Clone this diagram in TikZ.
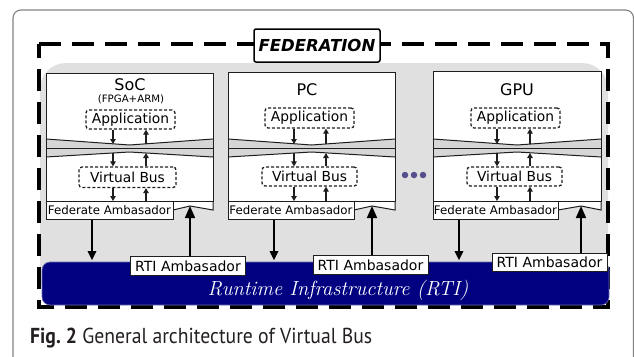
\documentclass[tikz,border=0pt]{standalone}
\usepackage{fontspec}
\newfontfamily\dv{DejaVu Sans}
\newfontfamily\capfont{PT Sans}
\usetikzlibrary{arrows.meta}
\definecolor{bggray}{RGB}{224,224,224}
\definecolor{bandgray}{RGB}{214,214,214}
\definecolor{navyblue}{RGB}{0,0,128}
\definecolor{navyedge}{RGB}{110,110,175}
\definecolor{dotcol}{RGB}{85,80,140}
\definecolor{capcol}{RGB}{35,31,32}
\definecolor{framecol}{RGB}{130,130,130}
\definecolor{boxcol}{RGB}{30,30,30}
\newcommand\hostframe[5]{% L, R, top, FedR, peak
  \pgfmathsetmacro\hbm{(#1+#2)/2}
  \fill[white] (#1,#3) rectangle (#2,201);
  \fill[bandgray] (#1,139) -- (\hbm,145) -- (#2,139) -- (#2,157) -- (\hbm,152) -- (#1,157) -- cycle;
  \draw[boxline] (#1,139) -- (\hbm,145) -- (#2,139);
  \draw[boxline] (#1,148) -- (#2,148);
  \draw[boxline] (#1,157) -- (\hbm,152) -- (#2,157);
  \filldraw[fill=white, boxline] (#4,201) -- (#4,210) -- (#5,206) -- (#2,210) -- (#2,201);
  \draw[boxline] (#1,#3) rectangle (#2,201);
}
\begin{document}
\begin{tikzpicture}[x=1pt,y=-1pt,
  boxline/.style={draw=boxcol, line width=1pt},
  dashbox/.style={draw=boxcol, line width=1.3pt, dash pattern=on 3pt off 2pt, rounded corners=3pt, fill=white, inner sep=0pt, font=\dv\fontsize{13.8}{15}\selectfont},
  fedbox/.style={draw=boxcol, line width=1pt, fill=white, inner sep=0pt, minimum height=18pt, font=\dv\fontsize{11.8}{13}\selectfont},
  rtibox/.style={draw=boxcol, line width=1pt, fill=white, inner sep=0pt, minimum height=18.5pt, minimum width=115pt, font=\dv\fontsize{14}{15}\selectfont},
  title/.style={inner sep=0pt, font=\dv\fontsize{16}{18}\selectfont},
  sarrow/.style={draw=boxcol, line width=1.1pt, -{Triangle[length=5pt,width=5.5pt]}},
  bigdown/.style={draw=black, line width=1.6pt, -{Triangle[length=9pt,width=8.5pt]}, shorten >=1.5pt},
  bigup/.style={draw=black, line width=1.7pt, -{Triangle[length=12pt,width=10pt]}},
  dotn/.style={circle, fill=dotcol, inner sep=0pt, minimum size=6.5pt}
]
\useasboundingbox (0,0) rectangle (634,356);
% outer page frame
\draw[framecol, line width=1.1pt, rounded corners=8pt] (13,360) -- (13,10) -- (633.5,10) -- (633.5,360);
% gray background
\fill[bggray, rounded corners=26pt] (40,63) rectangle (608,300);
\fill[bggray] (40,200) rectangle (608,285);
% federation dashed frame
\draw[black, line width=3.3pt, dash pattern=on 22pt off 11pt] (39,44) -- (608,44) -- (608,307) -- (39,307) -- cycle;
\node[draw=black, line width=1.5pt, rounded corners=2pt, fill=white, minimum width=126pt, minimum height=33pt, inner sep=0pt, font=\dv\fontsize{16.5}{18}\selectfont\bfseries\itshape] (fed) at (317,45.5) {FEDERATION};
% RTI bar
\node[fill=navyblue, draw=navyedge, line width=0.6pt, rounded corners=8pt, minimum width=567pt, minimum height=43pt, inner sep=0pt] (rtibar) at (325.5,283.5) {};
\node[text=white, inner sep=0pt, font=\fontsize{20.5}{24}\selectfont\itshape] (rtitext) at (338,290) {Runtime Infrastructure (RTI)};
% hosts
\hostframe{46}{213}{73}{173}{190}
\hostframe{228}{395}{72}{354}{372}
\hostframe{433}{601}{71}{558}{581}
\coordinate (bandtop) at (0,144);
\coordinate (bandbot) at (0,153);
\coordinate (boxbot) at (0,201);
\coordinate (pk1) at (190,206);
\coordinate (pk2) at (372,206);
\coordinate (pk3) at (581,206);
% host labels
\node[title] (soc) at (130,85) {SoC};
\node[inner sep=0pt, font=\dv\fontsize{10.2}{12}\selectfont] (socsub) at (131,99) {(FPGA+ARM)};
\node[title] (pc) at (307,90) {PC};
\node[title] (gpu) at (517,90) {GPU};
% application and virtual bus
\node[dashbox, minimum width=89pt, minimum height=19pt] (app1) at (130.5,119.5) {Application};
\node[dashbox, minimum width=89pt, minimum height=20pt] (app2) at (309.5,118) {Application};
\node[dashbox, minimum width=89pt, minimum height=20pt] (app3) at (515.5,118) {Application};
\node[dashbox, minimum width=97pt, minimum height=20.5pt] (vb1) at (127.5,177.25) {Virtual Bus};
\node[dashbox, minimum width=95pt, minimum height=19pt] (vb2) at (309.5,176.5) {Virtual Bus};
\node[dashbox, minimum width=95pt, minimum height=19pt] (vb3) at (514.5,176.5) {Virtual Bus};
% federate ambassadors
\node[fedbox, minimum width=127pt] (fed1) at (109.5,210) {Federate Ambasador};
\node[fedbox, minimum width=126pt] (fed2) at (291,210) {Federate Ambasador};
\node[fedbox, minimum width=125pt] (fed3) at (495.5,210) {Federate Ambasador};
% internal arrows
\foreach \b/\d/\u in {1/113/146, 2/294/326, 3/497/530} {
  \draw[sarrow] (app\b.south -| \d,0) -- (\d,0 |- bandtop);
  \draw[sarrow] (\u,0 |- bandtop) -- (app\b.south -| \u,0);
  \draw[sarrow] (\d,0 |- bandbot) -- (vb\b.north -| \d,0);
  \draw[sarrow] (vb\b.north -| \u,0) -- (\u,0 |- bandbot);
  \draw[sarrow] (vb\b.south -| \d,0) -- (\d,0 |- boxbot);
  \draw[sarrow] (\u,0 |- boxbot) -- (vb\b.south -| \u,0);
}
% RTI ambassadors
\node[rtibox] (rti1) at (188,266) {RTI Ambasador};
\node[rtibox] (rti2) at (370.5,265) {RTI Ambasador};
\node[rtibox] (rti3) at (549.5,262.5) {RTI Ambasador};
% federate -> RTI
\draw[bigdown] (fed1.south -| 92,0) -- (92,0 |- rtibar.north);
\draw[bigdown] (fed2.south -| 274,0) -- (274,0 |- rtibar.north);
\draw[bigdown] (fed3.south -| 459,0) -- (459,0 |- rtibar.north);
% RTI ambassador -> host
\draw[bigup] (rti1.north -| pk1) -- (pk1);
\draw[bigup] (rti2.north -| pk2) -- (pk2);
\draw[bigup] (rti3.north -| pk3) -- (pk3);
% ellipsis dots
\node[dotn] (d1) at (405,175) {};
\node[dotn] (d2) at (414,175) {};
\node[dotn] (d3) at (423,175) {};
% caption
\node[anchor=base west, inner sep=0pt, text=capcol] (cap) at (30,343) {\scalebox{1}[1.1]{\resizebox{342pt}{!}{\capfont\textbf{Fig.~2} General architecture of Virtual Bus}}};
\end{tikzpicture}
\end{document}
